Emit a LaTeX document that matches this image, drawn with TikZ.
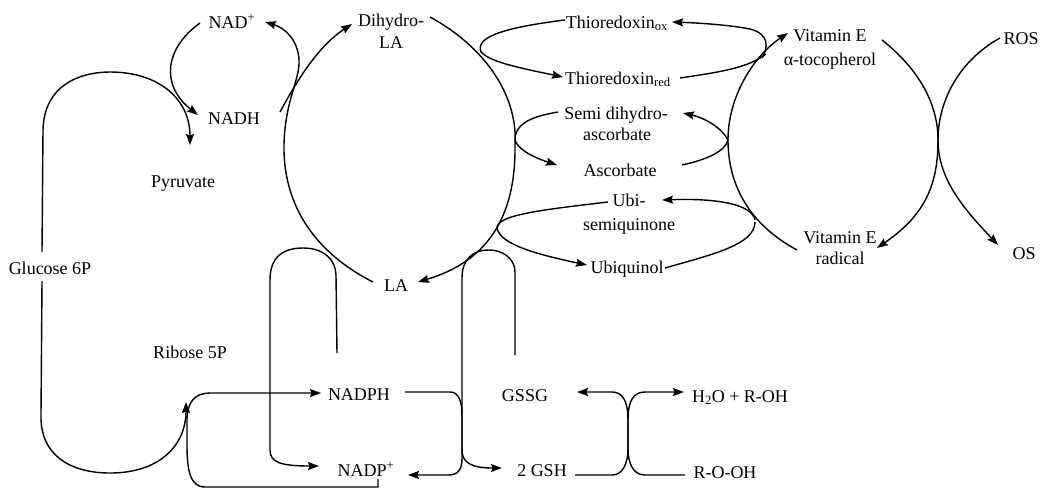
\documentclass[tikz,border=0pt]{standalone}
\usepackage{fontspec}
\setmainfont{Liberation Serif}
\usetikzlibrary{arrows.meta}
\begin{document}
\begin{tikzpicture}[x=1pt,y=-1pt,
  line width=1.4pt,
  >={Stealth[length=11pt,width=8pt,inset=1.5pt]},
  lbl/.style={inner sep=1pt, text height=12pt, text depth=0pt, font=\fontsize{18}{22}\selectfont}]
\useasboundingbox (0,0) rectangle (1041,488);
% ---------- labels ----------
\node[lbl] (nadplus) at (232,22) {NAD\textsuperscript{+}};
\node[lbl] (nadh) at (234,118) {NADH};
\node[lbl] (pyr) at (183,181) {Pyruvate};
\node[lbl] (glc) at (50,268) {Glucose 6P};
\node[lbl] (rib) at (190,352) {Ribose 5P};
\node[lbl] (dla1) at (391,20) {Dihydro-};
\node[lbl] (dla2) at (391,42) {LA};
\node[lbl] (la) at (396,285) {LA};
\node[lbl] (tox) at (617,22) {Thioredoxin\textsubscript{ox}};
\node[lbl] (tred) at (618,78) {Thioredoxin\textsubscript{red}};
\node[lbl] (sda1) at (616,113) {Semi dihydro-};
\node[lbl] (sda2) at (617,134) {ascorbate};
\node[lbl] (asc) at (620,170) {Ascorbate};
\node[lbl] (ubs1) at (629,200) {Ubi-};
\node[lbl] (ubs2) at (629,224) {semiquinone};
\node[lbl] (ubq) at (627,267) {Ubiquinol};
\node[lbl] (vite1) at (830,35) {Vitamin E};
\node[lbl] (vite2) at (830,59) {α-tocopherol};
\node[lbl] (ros) at (1021,38) {ROS};
\node[lbl] (vrad1) at (840,237) {Vitamin E};
\node[lbl] (vrad2) at (840,258) {radical};
\node[lbl] (os) at (1024,253) {OS};
\node[lbl] (nadph) at (359,394) {NADPH};
\node[lbl] (nadpp) at (366,470) {NADP\textsuperscript{+}};
\node[lbl] (gssg) at (525,395) {GSSG};
\node[lbl] (gsh) at (542,470) {2 GSH};
\node[lbl] (h2o) at (740,396) {H\textsubscript{2}O + R-OH};
\node[lbl] (rooh) at (725,472) {R-O-OH};
% ---------- connector ends ----------
\coordinate (dlaR) at (430,17);
\coordinate (laArr) at (418,282);
\coordinate (laL) at (373,282);
\coordinate (nadArr) at (265,22);
\coordinate (nadhE) at (280,112);
\coordinate (dlaArr) at (352,24);
\coordinate (nadL) at (200,23);
\coordinate (nadhArr) at (198,115);
\coordinate (glcT) at (42,252);
\coordinate (glcB) at (42,281);
\coordinate (pyrArr) at (190,145);
\coordinate (ribArr) at (186,402);
\coordinate (nadppS) at (378,479);
\coordinate (nadphArr) at (321,393);
\coordinate (nadphT) at (337,353);
\coordinate (nadppArrL) at (319,466);
\coordinate (gssgT) at (515,355);
\coordinate (gshArr) at (502,468);
\coordinate (nadphE) at (405,392);
\coordinate (nadppArrR) at (408,475);
\coordinate (gshE) at (575,475);
\coordinate (gssgArr) at (577,392);
\coordinate (roohW) at (685,475);
\coordinate (h2oArr) at (684,392);
\coordinate (toxW) at (565,20);
\coordinate (tredArr) at (563,77);
\coordinate (sdaW) at (558,112);
\coordinate (ascArr) at (557,165);
\coordinate (ubiW) at (608,202);
\coordinate (ubqArr) at (587,265);
\coordinate (vradL) at (797,250);
\coordinate (viteArr) at (788,33);
\coordinate (viteR) at (882,40);
\coordinate (vradArr) at (877,248);
\coordinate (rosW) at (1000,38);
\coordinate (osArr) at (998,245);
\coordinate (vtox) at (762,58);
\coordinate (toxArr) at (672,22);
\coordinate (tredE) at (680,78);
\coordinate (vtred) at (766,54);
\coordinate (vasc) at (728,140);
\coordinate (sdaArr) at (683,113);
\coordinate (ascE) at (682,165);
\coordinate (vubi) at (755,220);
\coordinate (ubiArr) at (662,200);
\coordinate (ubqE) at (665,268);
\coordinate (vubq) at (755,222);
% ---------- LA cycle ----------
\draw[->] (dlaR) .. controls (490,50) and (518,100) .. (515,145) .. controls (516,220) and (485,262) .. (laArr);
\draw[->] (laL) .. controls (310,250) and (283,200) .. (284,145) .. controls (285,100) and (300,80) .. (299,60) .. controls (298,40) and (285,28) .. (nadArr);
\draw[->] (nadhE) .. controls (300,75) and (320,45) .. (dlaArr);
\draw[->] (nadL) .. controls (165,48) and (160,85) .. (nadhArr);
% ---------- glucose ----------
\draw[->] (glcT) -- (43,130) .. controls (44,85) and (80,72) .. (110,72) .. controls (160,72) and (190,100) .. (pyrArr);
\draw[->] (glcB) -- (41,415) .. controls (40,455) and (70,473) .. (110,473) .. controls (160,473) and (186,445) .. (ribArr);
% ---------- NADPH / NADP+ ----------
\draw[->] (nadppS) -- (378,487) -- (205,487) .. controls (190,487) and (187,470) .. (187,445) -- (187,420) .. controls (187,402) and (195,393) .. (210,393) -- (nadphArr);
\draw[->] (nadphT) -- (336,275) .. controls (335,256) and (320,248) .. (303,248) .. controls (282,248) and (270,258) .. (270,280) -- (270,450) .. controls (270,462) and (280,466) .. (nadppArrL);
\draw[->] (gssgT) -- (515,272) .. controls (515,258) and (502,250) .. (489,250) .. controls (472,250) and (462,260) .. (462,278) -- (462,450) .. controls (462,463) and (472,468) .. (gshArr);
\draw[->] (nadphE) -- (450,392) .. controls (458,392) and (462,400) .. (462,415) -- (462,458) .. controls (462,470) and (458,475) .. (448,475) -- (nadppArrR);
% ---------- glutathione ----------
\draw[->] (gshE) -- (612,475) .. controls (622,475) and (628,465) .. (628,448) -- (628,420) .. controls (628,400) and (622,392) .. (612,392) -- (gssgArr);
\draw[->] (roohW) -- (645,475) .. controls (634,475) and (628,465) .. (628,448) -- (628,420) .. controls (628,400) and (634,392) .. (645,392) -- (h2oArr);
% ---------- LA side shuttles ----------
\draw[->] (toxW) .. controls (500,28) and (475,38) .. (481,52) .. controls (490,62) and (520,68) .. (tredArr);
\draw[->] (sdaW) .. controls (535,116) and (515,122) .. (515,140) .. controls (518,150) and (535,158) .. (ascArr);
\draw[->] (ubiW) .. controls (540,210) and (497,215) .. (497,228) .. controls (500,245) and (540,255) .. (ubqArr);
% ---------- vitamin E cycle ----------
\draw[->] (vradL) .. controls (745,222) and (728,180) .. (728,140) .. controls (728,95) and (755,55) .. (viteArr);
\draw[->] (viteR) .. controls (920,70) and (938,105) .. (938,140) .. controls (938,185) and (925,215) .. (vradArr);
\draw[->] (rosW) .. controls (960,60) and (938,100) .. (938,140) .. controls (938,180) and (965,210) .. (osArr);
\draw[->] (vtox) .. controls (768,48) and (770,34) .. (750,29) .. controls (730,25) and (700,23) .. (toxArr);
\draw (tredE) .. controls (720,72) and (748,68) .. (vtred);
\draw[->] (vasc) .. controls (722,128) and (705,118) .. (sdaArr);
\draw (ascE) .. controls (705,160) and (725,152) .. (vasc);
\draw[->] (vubi) .. controls (752,205) and (720,198) .. (ubiArr);
\draw (ubqE) .. controls (710,255) and (755,245) .. (vubq);
\end{tikzpicture}
\end{document}
